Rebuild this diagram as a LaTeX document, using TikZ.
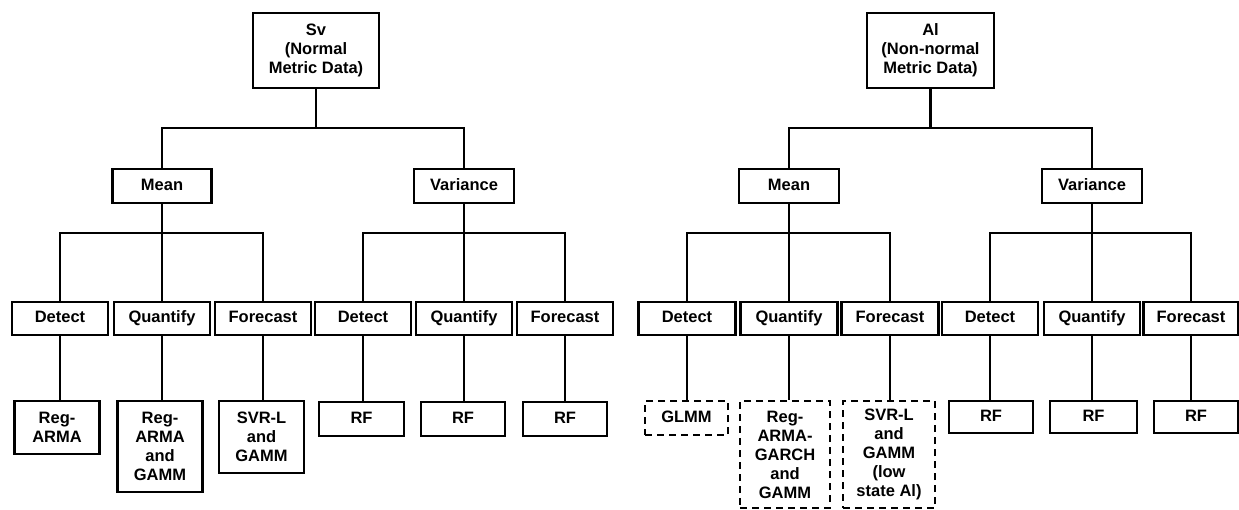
\documentclass[tikz,border=0pt]{standalone}
\usepackage{fontspec}
\setmainfont{Liberation Sans}
\begin{document}
\begin{tikzpicture}[x=1pt,y=-1pt,
  box/.style={draw, line width=2.2pt, align=center, inner sep=0pt,
    font=\bfseries\fontsize{16.5}{19}\selectfont},
  sbox/.style={box, text height=12pt, text depth=3.5pt},
  dbox/.style={box, dash pattern=on 7pt off 5pt},
  conn/.style={line width=2.2pt}]
\useasboundingbox (0,0) rectangle (1239,510);
% ---------------- Left tree ----------------
\node[box, minimum width=126pt, minimum height=75pt] (sv) at (316,50.5) {Sv\\(Normal\\Metric Data)};
\node[sbox, minimum width=99pt, minimum height=34pt] (mL) at (162,186) {Mean};
\node[sbox, minimum width=100pt, minimum height=34pt] (vL) at (464,186) {Variance};
\node[sbox, minimum width=96pt, minimum height=33pt] (dL1) at (60,318.5) {Detect};
\node[sbox, minimum width=96pt, minimum height=33pt] (qL1) at (162,318.5) {Quantify};
\node[sbox, minimum width=96pt, minimum height=33pt] (fL1) at (263,318.5) {Forecast};
\node[sbox, minimum width=96pt, minimum height=33pt] (dL2) at (363,318.5) {Detect};
\node[sbox, minimum width=96pt, minimum height=33pt] (qL2) at (464,318.5) {Quantify};
\node[sbox, minimum width=96pt, minimum height=33pt] (fL2) at (565,318.5) {Forecast};
\node[box, minimum width=85pt, minimum height=53pt] (lL1) at (57,427.5) {Reg-\\ARMA};
\node[box, minimum width=85pt, minimum height=91pt] (lL2) at (160,446.5) {Reg-\\ARMA\\and\\GAMM};
\node[box, minimum width=85pt, minimum height=72pt] (lL3) at (261.5,437) {SVR-L\\and\\GAMM};
\node[sbox, minimum width=85pt, minimum height=34pt] (lL4) at (361.5,419) {RF};
\node[sbox, minimum width=84pt, minimum height=34pt] (lL5) at (463,419) {RF};
\node[sbox, minimum width=84pt, minimum height=34pt] (lL6) at (565,419) {RF};
\coordinate (jL) at (316,128);
\coordinate (jmL) at (162,233);
\coordinate (jvL) at (464,233);
\draw[conn] (sv.south) -- (jL);
\draw[conn] (mL.north) |- (jL) -| (vL.north);
\draw[conn] (mL.south) -- (jmL) -- (qL1.north);
\draw[conn] (dL1.north) |- (jmL) -| (fL1.north);
\draw[conn] (vL.south) -- (jvL) -- (qL2.north);
\draw[conn] (dL2.north) |- (jvL) -| (fL2.north);
\foreach \a/\b in {dL1/lL1,qL1/lL2,fL1/lL3,dL2/lL4,qL2/lL5,fL2/lL6}
  \draw[conn] (\a.south) -- (\a.south |- \b.north);
% ---------------- Right tree ----------------
\node[box, minimum width=127pt, minimum height=75pt] (al) at (930.5,50.5) {Al\\(Non-normal\\Metric Data)};
\node[sbox, minimum width=100pt, minimum height=34pt] (mR) at (789,186) {Mean};
\node[sbox, minimum width=100pt, minimum height=34pt] (vR) at (1092,186) {Variance};
\node[sbox, minimum width=97pt, minimum height=33pt] (dR1) at (687,318.5) {Detect};
\node[sbox, minimum width=97pt, minimum height=33pt] (qR1) at (789,318.5) {Quantify};
\node[sbox, minimum width=97pt, minimum height=33pt] (fR1) at (890,318.5) {Forecast};
\node[sbox, minimum width=96pt, minimum height=33pt] (dR2) at (990,318.5) {Detect};
\node[sbox, minimum width=96pt, minimum height=33pt] (qR2) at (1092,318.5) {Quantify};
\node[sbox, minimum width=95pt, minimum height=33pt] (fR2) at (1191,318.5) {Forecast};
\node[dbox, text height=12pt, text depth=3.5pt, minimum width=83pt, minimum height=34pt] (lR1) at (686.5,418) {GLMM};
\node[dbox, minimum width=90pt, minimum height=107pt] (lR2) at (785,454.5) {Reg-\\ARMA-\\GARCH\\and\\GAMM};
\node[dbox, minimum width=92pt, minimum height=107pt] (lR3) at (889,454.5) {SVR-L\\and\\GAMM\\(low\\state Al)};
\node[sbox, minimum width=84pt, minimum height=32pt] (lR4) at (991,417) {RF};
\node[sbox, minimum width=87pt, minimum height=32pt] (lR5) at (1093.5,417) {RF};
\node[sbox, minimum width=84pt, minimum height=32pt] (lR6) at (1196,417) {RF};
\coordinate (jR) at (930.5,128);
\coordinate (jmR) at (789,233);
\coordinate (jvR) at (1092,233);
\draw[conn] (al.south) -- (jR);
\draw[conn] (mR.north) |- (jR) -| (vR.north);
\draw[conn] (mR.south) -- (jmR) -- (qR1.north);
\draw[conn] (dR1.north) |- (jmR) -| (fR1.north);
\draw[conn] (vR.south) -- (jvR) -- (qR2.north);
\draw[conn] (dR2.north) |- (jvR) -| (fR2.north);
\foreach \a/\b in {dR1/lR1,qR1/lR2,fR1/lR3,dR2/lR4,qR2/lR5,fR2/lR6}
  \draw[conn] (\a.south) -- (\a.south |- \b.north);
\end{tikzpicture}
\end{document}
